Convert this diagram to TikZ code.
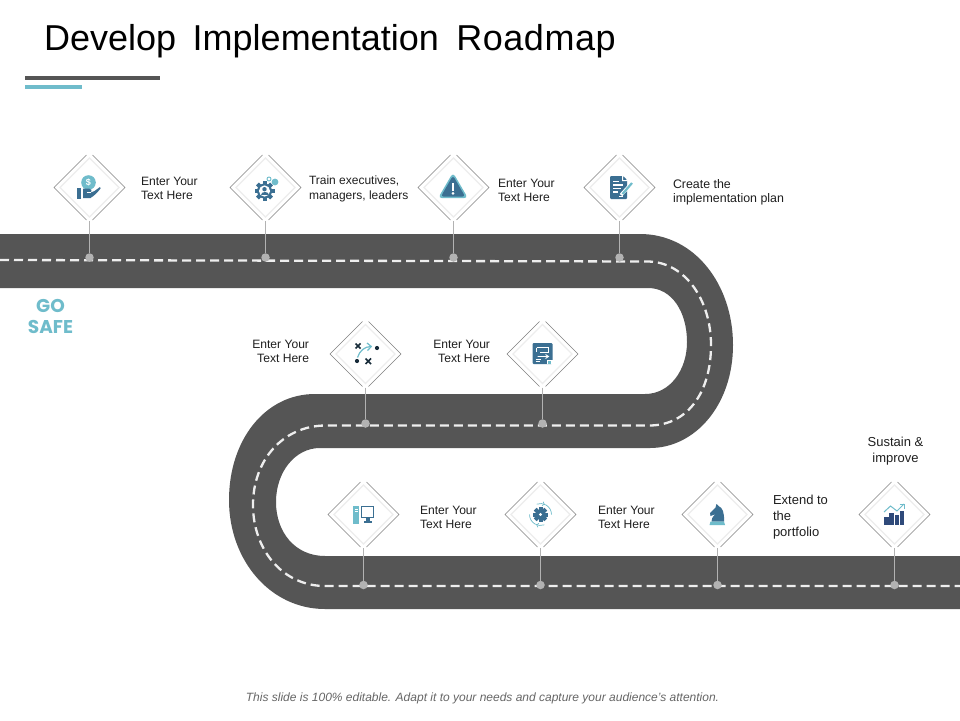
\documentclass[tikz,border=0pt]{standalone}
\usepackage{fontspec}
\setmainfont{Liberation Sans}
\newfontfamily\gofont{Poppins}
\usetikzlibrary{calc}
\definecolor{roadc}{HTML}{555555}
\definecolor{iblue}{HTML}{3B6F92}
\definecolor{iteal}{HTML}{6FBCCB}
\definecolor{inavy}{HTML}{2F4A7A}
\definecolor{dashc}{HTML}{EEEEEE}
\tikzset{
  lbl/.style={font=\fontsize{12.1}{14}\selectfont,text=black!88,inner sep=0pt,outer sep=0pt},
  lblL/.style={lbl,anchor=west,align=left},
  lblR/.style={lbl,anchor=east,align=right},
  lblC/.style={lbl,anchor=center,align=center},
  dframe/.style={shape=rectangle,minimum width=71pt,minimum height=71pt,inner sep=0pt,outer sep=0pt},
  dline/.style={draw=black!50,line width=.6pt},
  dinner/.style={draw=black!7,line width=1.2pt},
  stem/.style={draw=black!30,line width=1.1pt},
  pin/.style={circle,fill=black!30,minimum size=8.5pt,inner sep=0pt,outer sep=0pt},
}
\newcommand{\stopmark}[4]{%
  \node[dframe] (d#1) at (#2,#3) {};
  \draw[dinner] ([yshift=-6pt]d#1.north) -- ([xshift=-6pt]d#1.east) -- ([yshift=6pt]d#1.south) -- ([xshift=6pt]d#1.west) -- cycle;
  \draw[dline] ([shift={(3,3)}]d#1.north) -- (d#1.east) -- ([shift={(3,-3)}]d#1.south);
  \draw[dline] ([shift={(-3,3)}]d#1.north) -- (d#1.west) -- ([shift={(-3,-3)}]d#1.south);
  \node[pin] (p#1) at (#2,#4) {};
  \draw[stem] ([yshift=2pt]d#1.south) -- (p#1);
}
\newcommand{\gearshape}[3]{% radius, tooth, colour
  \foreach \a in {0,45,...,135}{
    \fill[#3,rotate=\a] (-2,-#1-#2) rectangle (2,#1+#2);
  }
  \fill[#3] (0,0) circle (#1);
}
\begin{document}
\begin{tikzpicture}[x=1pt,y=-1pt]
\useasboundingbox (0,0) rectangle (960,720);
\fill[white] (0,0) rectangle (960,720);

% road
\fill[roadc] (0,234) -- (640,234)
  .. controls (695,234) and (733,285) .. (733,345)
  .. controls (733,405) and (695,448) .. (650,448)
  -- (320,448)
  .. controls (295,448) and (276,472) .. (276,502)
  .. controls (276,532) and (295,556) .. (325,556)
  -- (960,556) -- (960,609) -- (325,609)
  .. controls (270,609) and (229,560) .. (229,500)
  .. controls (229,440) and (265,394) .. (315,394)
  -- (645,394)
  .. controls (670,394) and (687,370) .. (687,342)
  .. controls (687,312) and (672,288) .. (648,288)
  -- (0,288) -- cycle;
\draw[dashc,line width=2.3pt,dash pattern=on 9pt off 5pt] (0,260) -- (648,261.5)
  .. controls (685,262) and (711,300) .. (711,345)
  .. controls (711,392) and (688,425) .. (650,425.5)
  -- (325,425.5)
  .. controls (283,426) and (253,460) .. (253,505)
  .. controls (253,550) and (283,586) .. (325,586)
  -- (960,586);

% title
\node[font=\fontsize{36}{40}\selectfont,text=black,anchor=base west,inner sep=0pt] (title) at (44,50) {Develop\hspace{16.5pt}Implementation\hspace{17.5pt}{\addfontfeature{LetterSpace=1.5}Roadmap}};
\fill[roadc] (25,76) rectangle (160,80);
\fill[iteal] (25,84.5) rectangle (82,88.5);

% stops
\stopmark{a}{89.5}{187.5}{257.5}
\stopmark{b}{265.5}{187.5}{257.5}
\stopmark{c}{453.5}{187.5}{257.5}
\stopmark{e}{619.5}{187.5}{257.5}
\stopmark{f}{365.5}{354}{423.5}
\stopmark{g}{542.5}{354}{423.5}
\stopmark{h}{363.5}{514.5}{585}
\stopmark{i}{540.5}{514.5}{585}
\stopmark{j}{717.5}{514.5}{585}
\stopmark{k}{894.5}{514.5}{585}

% labels
\node[lblL] (ta) at (141,188) {Enter Your\\Text Here};
\node[lblL,font=\fontsize{12}{15}\selectfont] (tb) at (309,188.5) {Train executives,\\managers, leaders};
\node[lblL] (tc) at (498,190) {Enter Your\\Text Here};
\node[lblL,font=\fontsize{12.4}{14}\selectfont] (te) at (673,192) {Create the\\implementation plan};
\node[lblR] (tf) at (309,351) {Enter Your\\Text Here};
\node[lblR] (tg) at (490,351) {Enter Your\\Text Here};
\node[lblL] (th) at (420,517) {Enter Your\\Text Here};
\node[lblL] (ti) at (598,517) {Enter Your\\Text Here};
\node[lblL,font=\fontsize{13}{16}\selectfont] (tj) at (773,517) {Extend to\\the\\portfolio};
\node[lblC,font=\fontsize{13}{16}\selectfont] (tk) at (895.5,451.5) {Sustain \&\\improve};
\node[font=\gofont\bfseries\fontsize{18.5}{21}\selectfont,text=iteal,align=center,inner sep=0pt] (go) at (50.5,316.5) {GO\\SAFE};
\node[font=\itshape\fontsize{12}{14}\selectfont,text=black!60,inner sep=0pt] (foot) at (482.5,698) {This slide is 100\% editable. Adapt it to your needs and capture your audience's attention.};

% icon a: hand and coin
\begin{scope}[shift={(89.5,187.5)}]
  \fill[iteal] (-1,-5) circle (7.3);
  \node[text=white,font=\fontsize{9}{9}\selectfont\bfseries,inner sep=0pt] (ia) at (-1,-5) {\$};
  \fill[iblue] (-12.5,0.5) rectangle (-8.5,11.5);
  \fill[iblue] (-6.5,1) -- (-0.5,1) .. controls (2,1) and (3,3.5) .. (1.5,5) -- (5,3.5) -- (10.5,-0.5) -- (11,1)
    .. controls (8,5) and (5,8) .. (1,10.5) -- (-6.5,10.5) -- cycle;
  \draw[white,line width=.7pt] (-3,5.2) -- (1.5,5.2);
\end{scope}

% icon b: gear with person
\begin{scope}[shift={(264.5,191)}]
  \gearshape{7.5}{2.5}{iblue}
  \fill[white] (0,0) circle (5.6);
  \fill[iblue] (0,-1.8) circle (2.2);
  \fill[iblue] (-4,4) .. controls (-4,0) and (4,0) .. (4,4) -- cycle;
  \fill[iteal] (10.5,-9) circle (3.4);
  \draw[iteal,line width=.9pt] (4.5,-12) circle (2);
\end{scope}

% icon c: warning triangle
\begin{scope}[shift={(453,188)}]
  \fill[iteal,rounded corners=4pt] (0,-15.5) -- (15,10.2) -- (-15,10.2) -- cycle;
  \fill[iblue,rounded corners=3pt] (0,-12.5) -- (12.2,8.7) -- (-12.2,8.7) -- cycle;
  \fill[white] (-1.4,-5.5) rectangle (1.4,2.5);
  \fill[white] (0,5.3) circle (1.5);
\end{scope}

% icon e: document and pen
\begin{scope}[shift={(620,187.5)}]
  \fill[iblue,rounded corners=1pt] (-10,-11.5) -- (3,-11.5) -- (7,-7.5) -- (7,11.5) -- (-10,11.5) -- cycle;
  \fill[white] (2,-11.5) -- (2,-6.5) -- (7,-6.5) -- (7,-7.5) -- (3,-7.5) -- (3,-11.5) -- cycle;
  \foreach \yy/\xx in {-6/-1,-2.5/3,1/1,4.5/-2}{
    \draw[white,line width=1.1pt] (-7,\yy) -- (\xx,\yy);
  }
  \draw[white,line width=1pt] (-1,8.5) -- (3,8.5);
  \draw[white,line width=3.4pt] (1,7.5) -- (12,-4.5);
  \draw[iteal,line width=2.2pt] (2.5,6.5) -- (12,-4.5);
\end{scope}

% icon f: tactics
\begin{scope}[shift={(365.5,354)}]
  \draw[black!60!iblue,line width=1.6pt] (-10,-10.5) -- (-5,-5.5) (-5,-10.5) -- (-10,-5.5);
  \draw[black!60!iblue,line width=1.6pt] (0,4.5) -- (5.5,10) (5.5,4.5) -- (0,10);
  \fill[black!60!iblue] (11.5,-6) circle (2.1);
  \fill[black!60!iblue] (-8.5,7) circle (2.1);
  \draw[iteal,line width=1.2pt] (-8,3.5) .. controls (-6,-3) and (-1,-7.5) .. (5.5,-7.5);
  \draw[iteal,line width=1.2pt] (1.5,-11) -- (5.8,-7.5) -- (2,-3.5);
\end{scope}

% icon g: swap board
\begin{scope}[shift={(542.5,354)}]
  \fill[iblue,rounded corners=1.2pt] (-10,-11) rectangle (10,10);
  \draw[white,line width=.9pt] (-6,-6.5) -- (6,-6.5) -- (6,-1.5) -- (-3,-1.5) (-6,-6.5) -- (-6,-2.5);
  \draw[white,line width=.9pt] (-5,2.5) -- (6,2.5) (3,.5) -- (6,2.5) -- (3,4.5);
  \draw[white,line width=.9pt] (-7,5) -- (-2,5) (-7,7.5) -- (-3,7.5);
  \fill[white] (4,6) rectangle (10,10);
  \fill[iteal] (5.5,7) rectangle (8,9.5);
\end{scope}

% icon h: computer
\begin{scope}[shift={(363.5,514.5)}]
  \fill[iteal] (-10.5,-8.5) rectangle (-4.5,9.5);
  \draw[white,line width=.8pt] (-9,-5.5) -- (-6,-5.5) (-9,-3) -- (-6,-3);
  \draw[iblue,line width=1.2pt] (-2,-8) rectangle (10,3);
  \fill[iblue] (-2,2) rectangle (10,3.8);
  \fill[iblue] (2,3.8) rectangle (6,6.5);
  \fill[iblue] (0,6.5) rectangle (8,8);
\end{scope}

% icon i: gear with cycle
\begin{scope}[shift={(540.5,514.5)}]
  \gearshape{5}{2.5}{iblue}
  \fill[white] (0,0) circle (1.7);
  \draw[iteal,line width=.7pt] (-11,0) arc (180:70:11);
  \draw[iteal,line width=.7pt] (11,0) arc (0:-110:11);
  \draw[iteal,line width=.7pt] (2.6,-12.8) -- (3.8,-10.3) -- (1.5,-8.8);
  \draw[iteal,line width=.7pt] (-2.6,12.8) -- (-3.8,10.3) -- (-1.5,8.8);
\end{scope}

% icon j: knight
\begin{scope}[shift={(717.5,514.5)}]
  \fill[iblue] (-6,7) .. controls (-6,2) and (-2,0) .. (-1,-1.5)
    -- (-3,0) -- (-7,1.5) -- (-7.5,-1.5) -- (-2,-7) -- (-1,-10.5) -- (1,-8.5)
    .. controls (5,-7) and (7,-2) .. (6.5,7) -- cycle;
  \fill[iteal] (-7,7) -- (6.5,7) -- (7.5,10.5) -- (-8,10.5) -- cycle;
\end{scope}

% icon k: growth chart
\begin{scope}[shift={(894.5,514.5)}]
  \fill[inavy] (-10.5,2.5) rectangle (-6,10.5);
  \fill[inavy] (-5.3,-1.5) rectangle (-0.7,10.5);
  \fill[inavy] (0,0.5) rectangle (4.8,10.5);
  \fill[inavy] (5.5,-3.5) rectangle (9.8,10.5);
  \draw[iteal,line width=1pt] (-10.5,-2.5) -- (-4,-8.5) -- (2.5,-3.5) -- (9.5,-10.5);
  \draw[iteal,line width=1pt] (5,-10.5) -- (10,-10.5) -- (10,-5.5);
\end{scope}
\end{tikzpicture}
\end{document}
